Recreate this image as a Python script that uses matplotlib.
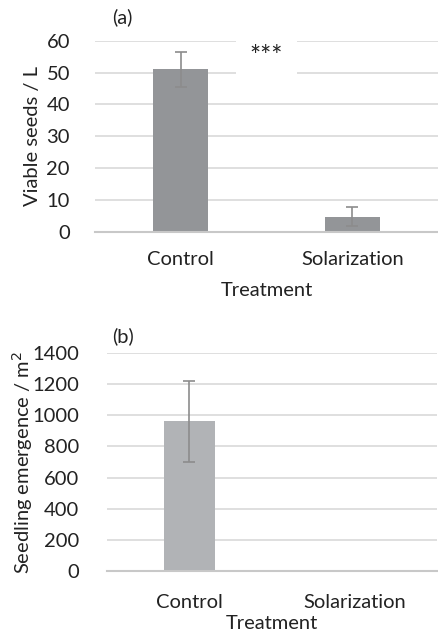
import matplotlib
matplotlib.use("Agg")
import matplotlib.pyplot as plt

categories = ["Control", "Solarization"]
seeds_mean = [51.1, 4.7]
seeds_err = [5.5, 3.0]
emerg_mean = [963, 0]
emerg_err = [260, 0]

plt.rcParams['font.family'] = ['Lato', 'DejaVu Sans']

fig = plt.figure(figsize=(4.39, 6.36), dpi=100)

grid_c = "#d9d9d9"
err_c = "#8c8c8c"
txt_c = "#222222"
fs = 14.5

def style(ax, ymax, step, ypad):
    ax.set_ylim(0, ymax)
    ax.set_yticks(range(0, ymax + 1, step))
    ax.set_xlim(-0.5, 1.5)
    ax.yaxis.grid(True, color=grid_c, lw=1.2)
    ax.set_axisbelow(True)
    for s in ["top", "right", "left"]:
        ax.spines[s].set_visible(False)
    ax.spines["bottom"].set_color("#c8c8c8")
    ax.spines["bottom"].set_linewidth(1.5)
    ax.tick_params(length=0, labelsize=fs, colors=txt_c)
    ax.tick_params(axis='y', pad=ypad)

x = range(len(categories))

# Panel (a)
ax1 = fig.add_axes([0.2164, 0.6357, 0.7816, 0.3003])
ax1.bar(x, seeds_mean, width=0.32, color="#939598", zorder=2)
ax1.errorbar(x, seeds_mean, yerr=seeds_err, fmt="none", ecolor=err_c, elinewidth=1.2,
             capsize=4, capthick=1.2, zorder=3)
style(ax1, 60, 10, 18)
ax1.set_xticks(list(x))
ax1.set_xticklabels(categories)
ax1.tick_params(axis='x', pad=14)
ax1.set_xlabel("Treatment", fontsize=fs, color=txt_c, labelpad=10)
ax1.set_ylabel("Viable seeds / L", fontsize=fs, color=txt_c, labelpad=4)
ax1.text(0.5, 54.8, "***", ha="center", va="center", fontsize=19, color=txt_c,
         bbox=dict(facecolor="white", edgecolor="none", pad=10), zorder=4)
fig.text(0.255, 0.973, "(a)", fontsize=fs, ha="left", va="center", color=txt_c)

# Panel (b)
ax2 = fig.add_axes([0.2437, 0.1027, 0.7517, 0.3418])
ax2.bar(x, emerg_mean, width=0.31, color="#b1b3b6", zorder=2)
ax2.errorbar([0], emerg_mean[:1], yerr=emerg_err[:1], fmt="none", ecolor=err_c,
             elinewidth=1.2, capsize=4, capthick=1.2, zorder=3)
style(ax2, 1400, 200, 20)
ax2.set_xticks(list(x))
ax2.set_xticklabels(categories)
ax2.tick_params(axis='x', pad=17)
ax2.set_xlabel("Treatment", fontsize=fs, color=txt_c, labelpad=3)
ax2.set_ylabel("Seedling emergence / m$^2$", fontsize=fs, color=txt_c, labelpad=-2)
fig.text(0.255, 0.472, "(b)", fontsize=fs, ha="left", va="center", color=txt_c)

fig.savefig("out.png", dpi=100)
